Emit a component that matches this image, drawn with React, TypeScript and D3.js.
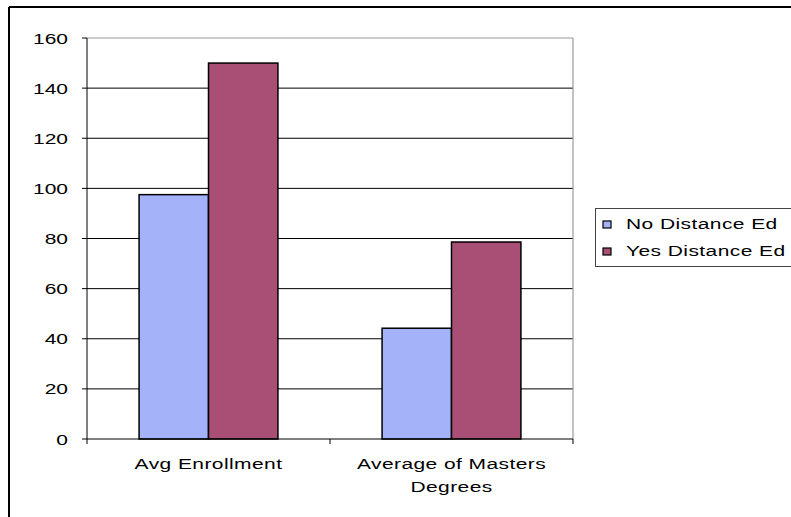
import React from "react";
import * as d3 from "d3";

const categories = ["Avg Enrollment", "Average of Masters Degrees"];
const categoryLines = [["Avg Enrollment"], ["Average of Masters", "Degrees"]];
const seriesNames = ["No Distance Ed", "Yes Distance Ed"];
const noDistanceEd = [97.5, 44.2];
const yesDistanceEd = [150, 78.6];
const yTicks = [0, 20, 40, 60, 80, 100, 120, 140, 160];

const COLORS = ["#a3b2f9", "#a94f76"];
const FONT = "'Liberation Sans', Arial, sans-serif";
const FS = 15;
const SX = 1.4;
const LS = 0.3;

export default function App() {
  const W = 791, H = 517;
  const left = 87, right = 573, top = 38, bottom = 439;
  const y = d3.scaleLinear().domain([0, 160]).range([bottom, top]);
  const x = d3
    .scaleBand<string>()
    .domain(categories)
    .range([left, right])
    .paddingInner(1.5 / 3.5)
    .paddingOuter(0.75 / 3.5);
  const xs = d3.scaleBand<string>().domain(seriesNames).range([0, x.bandwidth()]);
  const series = [noDistanceEd, yesDistanceEd];
  const step = x.step();
  const boundaries = d3.range(categories.length + 1).map((i) => left + i * step);

  return (
    <svg
      width={W}
      height={H}
      style={{ position: "absolute", left: 0, top: 0, background: "#fff" }}
      fontFamily={FONT}
    >
      <rect x={0} y={0} width={W} height={H} fill="#fff" />
      {/* outer chart border */}
      <line x1={9} y1={7} x2={W} y2={7} stroke="#000" strokeWidth={2} />
      <line x1={9} y1={7} x2={9} y2={H} stroke="#000" strokeWidth={2} />

      {/* gridlines */}
      {yTicks.map((t) =>
        t === 0 || t === 160 ? null : (
          <line key={"g" + t} x1={left} x2={right} y1={y(t)} y2={y(t)} stroke="#000" strokeWidth={1} />
        )
      )}
      {/* plot border (gray) */}
      <line x1={left} x2={right} y1={y(160)} y2={y(160)} stroke="#999" strokeWidth={1.2} />
      <line x1={right} x2={right} y1={top} y2={bottom} stroke="#999" strokeWidth={1.2} />

      {/* bars */}
      {series.map((vals, si) =>
        categories.map((c, ci) => {
          const bx = (x(c) as number) + (xs(seriesNames[si]) as number);
          return (
            <rect
              key={si + "-" + ci}
              x={bx}
              y={y(vals[ci])}
              width={xs.bandwidth()}
              height={y(0) - y(vals[ci])}
              fill={COLORS[si]}
              stroke="#000"
              strokeWidth={1.5}
            />
          );
        })
      )}

      {/* axes */}
      <line x1={left} x2={left} y1={top} y2={bottom} stroke="#000" strokeWidth={1} />
      <line x1={left} x2={right} y1={bottom} y2={bottom} stroke="#000" strokeWidth={1} />
      {yTicks.map((t) => (
        <g key={"t" + t}>
          <line x1={left - 5} x2={left} y1={y(t)} y2={y(t)} stroke="#000" strokeWidth={1} />
          <text
            transform={`translate(${68},${y(t) + 5.5}) scale(${SX},1)`}
            textAnchor="end"
            fontSize={FS}
            fill="#000"
          >
            {t}
          </text>
        </g>
      ))}
      {boundaries.map((b, i) => (
        <line key={"xt" + i} x1={b} x2={b} y1={bottom} y2={bottom + 5} stroke="#000" strokeWidth={1} />
      ))}
      {categories.map((c, ci) =>
        categoryLines[ci].map((ln, li) => (
          <text
            key={c + li}
            transform={`translate(${(x(c) as number) + x.bandwidth() / 2},${469 + li * 23}) scale(${SX},1)`}
            textAnchor="middle"
            fontSize={FS}
            letterSpacing={LS}
            fill="#000"
          >
            {ln}
          </text>
        ))
      )}

      {/* legend */}
      <rect x={595.5} y={208.5} width={196} height={58} fill="#fff" stroke="#444" strokeWidth={1} />
      {seriesNames.map((s, i) => (
        <g key={s}>
          <rect x={603} y={221 + i * 27} width={8} height={7} fill={COLORS[i]} stroke="#000" strokeWidth={1.2} />
          <text
            transform={`translate(${626},${229 + i * 27}) scale(${SX},1)`}
            fontSize={FS}
            letterSpacing={LS}
            fill="#000"
          >
            {s}
          </text>
        </g>
      ))}
    </svg>
  );
}
